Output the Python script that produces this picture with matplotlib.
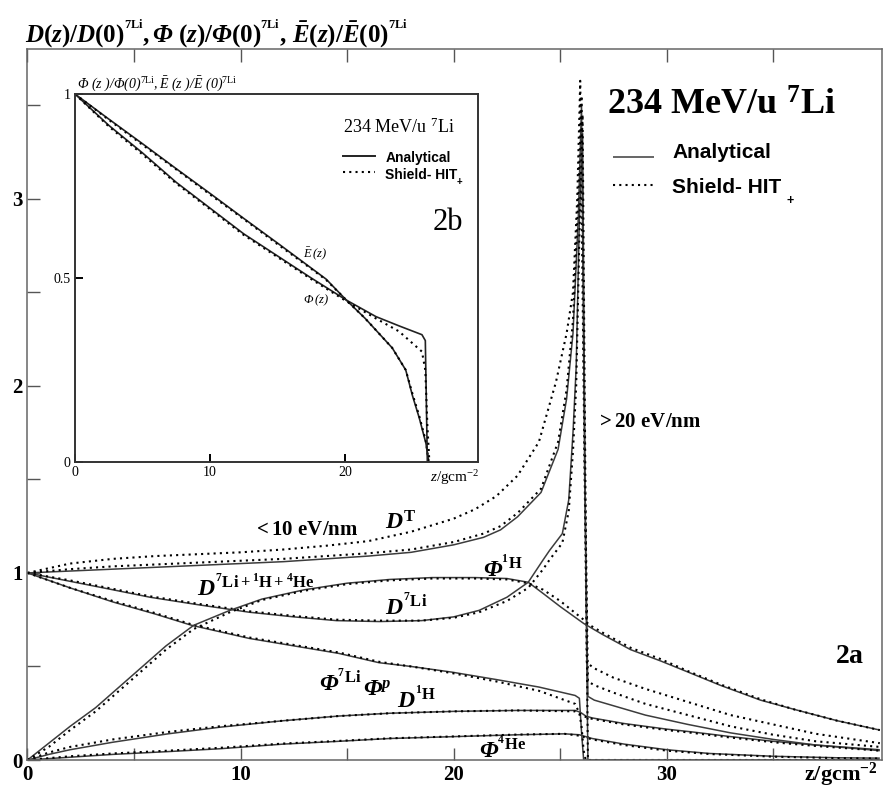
"""Dosis, fluencia y energia media normalizadas para un haz de 7Li
de 234 MeV/u en agua: modelo analitico contra Shield-HIT."""

import numpy as np
import matplotlib.pyplot as plt

# Fuentes para el texto matematico (negrita cursiva tipo Times)
plt.rcParams['mathtext.fontset'] = 'custom'
plt.rcParams['mathtext.rm'] = 'Liberation Serif:bold:italic'
plt.rcParams['mathtext.it'] = 'Liberation Serif:bold:italic'
plt.rcParams['mathtext.bf'] = 'Liberation Serif:bold'
plt.rcParams['mathtext.sf'] = 'Liberation Serif:italic'
plt.rcParams['mathtext.tt'] = 'Liberation Serif'
plt.rcParams['mathtext.cal'] = 'Liberation Serif'
plt.rcParams['font.family'] = 'Liberation Serif'

#---------------- Datos del panel 2a ----------------
# Dosis total (solo Shield-HIT)
zT_sh = [0, 2, 4, 6, 8, 10, 12, 14, 16, 18, 20, 21, 22, 23, 24, 24.8, 25.3,
         25.6, 25.8, 25.94, 26.1, 26.25, 26.6, 27.5, 29, 31, 33, 35, 37, 40]
DT_sh = [1.00, 1.05, 1.075, 1.09, 1.10, 1.11, 1.125, 1.145, 1.17, 1.22, 1.29,
         1.34, 1.41, 1.52, 1.70, 2.02, 2.28, 2.50, 3.00, 3.63, 2.00, 0.52,
         0.49, 0.44, 0.38, 0.31, 0.24, 0.19, 0.14, 0.09]

# Dosis 7Li + 1H + 4He
zS = [0, 2, 4, 6, 8, 10, 12, 14, 16, 18, 20, 21.4, 22.2, 23, 24.1, 24.9, 25.3,
      25.6, 25.85, 26.0, 26.15, 26.3, 26.6, 27.5, 29, 31, 33, 35, 37, 40]
DS_an = [1.00, 1.01, 1.02, 1.03, 1.04, 1.05, 1.06, 1.075, 1.09, 1.11, 1.15,
         1.19, 1.23, 1.30, 1.43, 1.66, 1.93, 2.28, 2.90, 3.50, 1.50, 0.34,
         0.32, 0.29, 0.24, 0.19, 0.145, 0.11, 0.08, 0.05]
DS_sh = [1.00, 1.02, 1.035, 1.045, 1.055, 1.065, 1.075, 1.09, 1.105, 1.125,
         1.165, 1.21, 1.25, 1.32, 1.45, 1.70, 1.98, 2.35, 3.00, 3.55, 1.60,
         0.42, 0.40, 0.36, 0.30, 0.24, 0.18, 0.135, 0.10, 0.07]

# Dosis de 7Li
zLi = [0, 2, 4, 5.75, 8, 10.4, 12.5, 14.5, 16.5, 18.5, 20, 21.2, 22.5, 23.5,
       24.2, 24.5, 25.1, 25.4, 25.6, 25.75, 25.9, 26.05, 26.2, 26.3, 40]
DLi_an = [1.00, 0.955, 0.91, 0.87, 0.83, 0.79, 0.765, 0.745, 0.74, 0.745,
          0.765, 0.80, 0.87, 0.95, 1.07, 1.12, 1.21, 1.39, 1.75, 2.10, 2.90,
          3.35, 1.00, 0.0, 0.0]
DLi_sh = [1.00, 0.96, 0.915, 0.875, 0.835, 0.795, 0.77, 0.75, 0.745, 0.745,
          0.76, 0.79, 0.85, 0.92, 1.02, 1.07, 1.16, 1.33, 1.65, 2.00, 2.80,
          3.45, 1.20, 0.0, 0.0]

# Fluencia de 7Li
zF = [0, 2, 4, 6, 7.7, 10.4, 12.5, 14.6, 16.5, 18, 19.9, 22, 24, 25.7, 25.9,
      26.0, 26.1, 26.2, 40]
FLi_an = [1.00, 0.92, 0.845, 0.78, 0.72, 0.65, 0.61, 0.57, 0.52, 0.50, 0.47,
          0.43, 0.39, 0.345, 0.33, 0.15, 0.0, 0.0, 0.0]
FLi_sh = [1.00, 0.92, 0.85, 0.785, 0.725, 0.655, 0.615, 0.575, 0.525, 0.50,
          0.465, 0.42, 0.37, 0.30, 0.25, 0.18, 0.05, 0.0, 0.0]

# Fluencia de protones
zH = [0, 1, 2, 3.2, 4, 5.1, 6.5, 7.8, 9.5, 11, 13, 15, 17, 19, 21, 22.5, 23.5,
      24.2, 25, 26.1, 26.4, 27, 28.3, 29.7, 31, 32.5, 34.4, 36, 38, 40]
FH_an = [0, 0.09, 0.18, 0.28, 0.36, 0.47, 0.61, 0.72, 0.80, 0.86, 0.91, 0.945,
         0.965, 0.975, 0.975, 0.97, 0.95, 0.89, 0.82, 0.73, 0.71, 0.67, 0.59,
         0.53, 0.47, 0.40, 0.32, 0.27, 0.21, 0.16]
FH_sh = [0, 0.07, 0.16, 0.26, 0.34, 0.45, 0.59, 0.70, 0.79, 0.855, 0.905, 0.94,
         0.96, 0.97, 0.97, 0.965, 0.945, 0.91, 0.85, 0.75, 0.72, 0.68, 0.60,
         0.54, 0.475, 0.405, 0.325, 0.27, 0.21, 0.16]

# Dosis de protones
zDH = [0, 1, 2, 4, 6.6, 9, 12, 14.6, 17, 20, 23, 25.7, 25.95, 26.2, 26.5, 28,
       30, 31.2, 33, 35, 37, 40]
DH_an = [0, 0.03, 0.055, 0.095, 0.14, 0.175, 0.21, 0.235, 0.25, 0.26, 0.265,
         0.265, 0.255, 0.235, 0.225, 0.195, 0.165, 0.15, 0.125, 0.10, 0.08,
         0.055]
DH_sh = [0, 0.04, 0.07, 0.11, 0.15, 0.18, 0.21, 0.235, 0.25, 0.26, 0.265,
         0.26, 0.245, 0.23, 0.22, 0.19, 0.16, 0.145, 0.12, 0.095, 0.075, 0.05]

# Fluencia de 4He
zHe = [0, 2, 4, 6.6, 9, 12, 14.6, 17, 20, 23, 25.2, 25.9, 26.2, 26.5, 28, 30,
       32, 35, 38, 40]
FHe_an = [0, 0.015, 0.03, 0.045, 0.06, 0.085, 0.10, 0.115, 0.125, 0.135, 0.14,
          0.135, 0.125, 0.115, 0.085, 0.055, 0.035, 0.02, 0.012, 0.01]
FHe_sh = [0, 0.02, 0.035, 0.05, 0.065, 0.088, 0.102, 0.116, 0.126, 0.136,
          0.14, 0.13, 0.12, 0.11, 0.08, 0.05, 0.032, 0.018, 0.01, 0.008]

#---------------- Datos del panel 2b ----------------
zE = [0, 2.5, 5, 7.5, 10, 12.5, 15, 17.5, 18.6, 20.1, 21.5, 23.5, 24.5, 25,
      25.5, 26, 26.2, 29.8]
E_an = [1.00, 0.932, 0.865, 0.797, 0.73, 0.662, 0.595, 0.527, 0.497, 0.44,
        0.39, 0.31, 0.25, 0.18, 0.12, 0.05, 0.0, 0.0]
E_sh = [1.00, 0.93, 0.862, 0.795, 0.727, 0.66, 0.592, 0.525, 0.495, 0.44,
        0.39, 0.31, 0.25, 0.185, 0.125, 0.055, 0.0, 0.0]

zP = [0, 2.5, 5, 7.5, 10, 12.5, 15, 17.5, 20.1, 22.3, 24, 25.7, 25.95, 26.1,
      26.25, 29.8]
P_an = [1.00, 0.915, 0.84, 0.76, 0.69, 0.62, 0.56, 0.50, 0.44, 0.395, 0.37,
        0.346, 0.33, 0.0, 0.0, 0.0]
P_sh = [1.00, 0.912, 0.836, 0.757, 0.687, 0.617, 0.557, 0.497, 0.437, 0.39,
        0.355, 0.30, 0.25, 0.10, 0.0, 0.0]

#---------------- Estilos ----------------
sol = dict(color='#3c3c3c', lw=1.1, solid_capstyle='butt')
dots = dict(color='black', lw=1.5, linestyle=(0, (1, 2)))

fig = plt.figure(figsize=(8.84, 7.94), dpi=100)
ax = fig.add_axes([0.0311, 0.0428, 0.9666, 0.8955])

# Curvas analiticas (solidas) y de Shield-HIT (punteadas)
ax.plot(zT_sh, DT_sh, **dots)
ax.plot(zS, DS_an, **sol)
ax.plot(zS, DS_sh, **dots)
ax.plot(zLi, DLi_an, **sol)
ax.plot(zLi, DLi_sh, **dots)
ax.plot(zF, FLi_an, **sol)
ax.plot(zF, FLi_sh, **dots)
ax.plot(zH, FH_an, **sol)
ax.plot(zH, FH_sh, **dots)
ax.plot(zDH, DH_an, **sol)
ax.plot(zDH, DH_sh, **dots)
ax.plot(zHe, FHe_an, **sol)
ax.plot(zHe, FHe_sh, **dots)

ax.set_xlim(0, 40.1)
ax.set_ylim(0, 3.8)
ax.set_xticks([0, 10, 20, 30])
ax.set_xticks([5, 15, 25, 35], minor=True)
ax.set_yticks([0, 1, 2, 3])
ax.set_yticks([0.5, 1.5, 2.5, 3.5], minor=True)
ax.tick_params(which='both', direction='in', top=True, right=False,
               colors='#555555', labelcolor='black', labelsize=15, width=1.0)
ax.tick_params(which='major', length=9)
ax.tick_params(which='minor', length=9)
for lab in ax.get_xticklabels() + ax.get_yticklabels():
    lab.set_fontweight('bold')
for s in ax.spines.values():
    s.set_color('#666666')
    s.set_linewidth(1.1)

# Etiquetas de ejes
fig.text(0.028, 0.947,
         r'$D\mathbf{(}z\mathbf{)/}D\mathbf{(0)}^{^{\mathbf{7Li}}}\mathbf{,}\,'
         r'\Phi\ \mathbf{(}z\mathbf{)/}\Phi\mathbf{(0)}^{^{\mathbf{7Li}}}\mathbf{,}\ '
         r'\bar{E}\mathbf{(}z\mathbf{)/}\bar{E}\mathbf{(0)}^{^{\mathbf{7Li}}}$',
         fontsize=18, ha='left', va='baseline')
ax.text(0.995, -0.029, r'$\mathbf{z/gcm^{-2}}$', transform=ax.transAxes,
        fontsize=16, ha='right', va='baseline')

# Textos del panel 2a
kw = dict(fontsize=17, ha='left', va='baseline')
ax.text(10.6, 1.20, r'$\mathbf{<10\ eV/nm}$', fontsize=15, ha='left', va='baseline')
ax.text(26.7, 1.78, r'$\mathbf{>20\ eV/nm}$', fontsize=15, ha='left', va='baseline')
ax.text(16.8, 1.23, r'$D^{\mathbf{T}}$', **kw)
ax.text(7.95, 0.88, r'$D^{\mathbf{{}^7Li+{}^1H+{}^4He}}$', **kw)
ax.text(21.4, 0.98, r'$\Phi^{\mathbf{{}^1H}}$', **kw)
ax.text(16.8, 0.78, r'$D^{\mathbf{{}^7Li}}$', **kw)
ax.text(13.7, 0.37, r'$\Phi^{\mathbf{{}^7Li}}$', **kw)
ax.text(15.75, 0.345, r'$\Phi^{p}$', **kw)
ax.text(17.35, 0.28, r'$D^{\mathbf{{}^1H}}$', **kw)
ax.text(21.2, 0.016, r'$\Phi^{\mathbf{{}^4He}}$', **kw)
ax.text(37.9, 0.52, r'$\mathbf{2a}$', fontsize=20, ha='left', va='baseline')
ax.text(27.2, 3.45, r'$\mathbf{234\ MeV/u\ {}^7Li}$', fontsize=26,
        ha='left', va='baseline')

# Leyenda del panel 2a
ax.plot([27.5, 29.4], [3.225, 3.225], clip_on=False, **sol)
ax.plot([27.5, 29.4], [3.075, 3.075], clip_on=False, **dots)
ax.text(30.25, 3.22, 'Analytical', family='Liberation Sans', weight='bold',
        fontsize=15, ha='left', va='baseline')
ax.text(30.25, 3.03, 'Shield- HIT', family='Liberation Sans', weight='bold',
        fontsize=15, ha='left', va='baseline')
ax.text(35.6, 2.97, '+', family='Liberation Sans', weight='bold',
        fontsize=9, ha='left', va='baseline')

#---------------- Panel 2b (recuadro) ----------------
axi = fig.add_axes([0.0848, 0.4181, 0.4559, 0.4635])
axi.plot(zE, E_an, color='#222222', lw=1.2)
axi.plot(zE, E_sh, **dots)
axi.plot(zP, P_an, color='#222222', lw=1.2)
axi.plot(zP, P_sh, **dots)

axi.set_xlim(0, 29.85)
axi.set_ylim(0, 1)
axi.set_xticks([0, 10, 20])
axi.set_yticks([0, 0.5, 1])
axi.set_yticklabels(['0', '0.5', '1'])
axi.tick_params(direction='in', length=6, width=1.4, labelsize=10, pad=3)
for s in axi.spines.values():
    s.set_color('#333333')
    s.set_linewidth(1.4)

axi.text(0.005, 1.004,
         r'$\mathsf{\Phi\ (z\ )/\Phi(0)}^{\mathtt{7Li}}\mathsf{,\bar{E}\ (z\ )/\bar{E}\ (0)}^{\mathtt{7Li}}$',
         transform=axi.transAxes, fontsize=10, ha='left', va='bottom')
axi.text(26.3, -0.055, r'$\mathsf{z}\mathtt{/gcm^{-2}}$', fontsize=11,
         ha='left', va='baseline')
axi.text(16.9, 0.557, r'$\mathsf{\bar{E}\,(z)}$', fontsize=9, ha='left', va='baseline')
axi.text(16.9, 0.432, r'$\mathsf{\Phi\,(z)}$', fontsize=9, ha='left', va='baseline')
axi.text(19.85, 0.894, r'$\mathtt{234\ MeV/u\ {}^7Li}$', fontsize=13,
         ha='left', va='baseline')
axi.text(26.5, 0.63, '2b', family='Liberation Serif', fontsize=22,
         ha='left', va='baseline')

# Leyenda del recuadro
axi.plot([19.85, 22.2], [0.832, 0.832], color='#222222', lw=1.4)
axi.plot([19.85, 22.2], [0.788, 0.788], **dots)
axi.text(23.0, 0.815, 'Analytical', family='Liberation Sans', weight='bold',
         fontsize=10, ha='left', va='baseline')
axi.text(23.0, 0.77, 'Shield- HIT', family='Liberation Sans', weight='bold',
         fontsize=10, ha='left', va='baseline')
axi.text(28.3, 0.752, '+', family='Liberation Sans', weight='bold',
         fontsize=7, ha='left', va='baseline')

plt.savefig('out.png', dpi=100)
